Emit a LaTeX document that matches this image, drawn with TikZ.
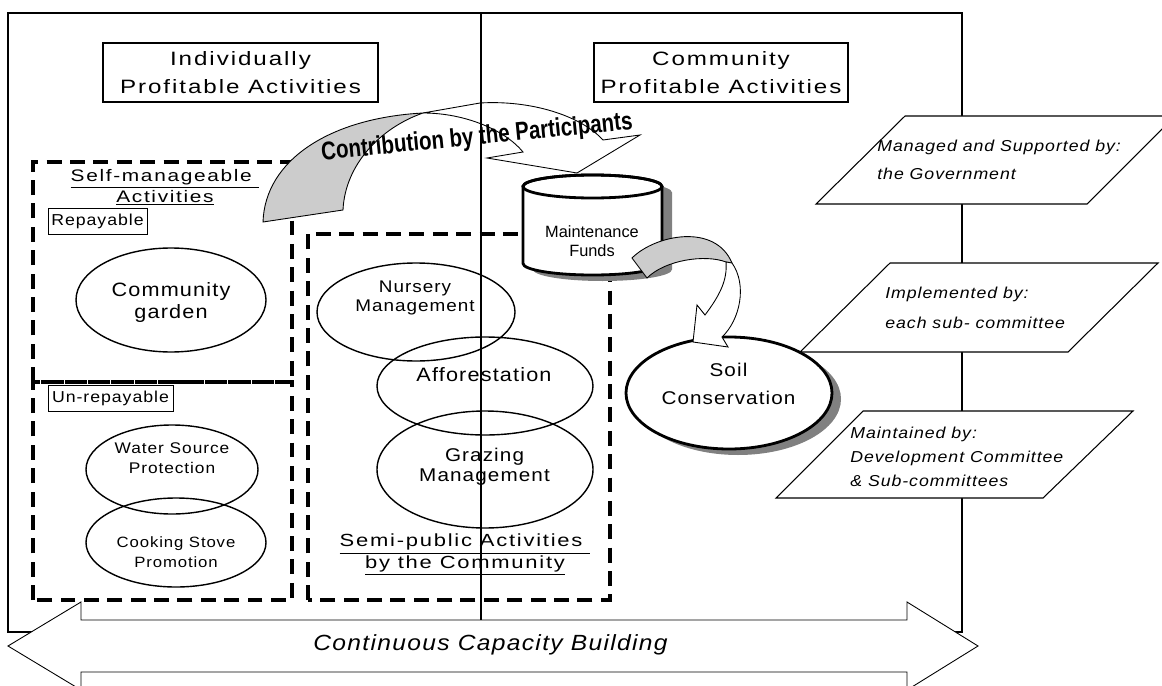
\documentclass[tikz,border=0pt]{standalone}
\usepackage{fontspec}
\setmainfont{Liberation Sans}
\newfontfamily\widefont[FakeStretch=1.12,LetterSpace=6]{Liberation Sans}
\newfontfamily\titlefont[FakeStretch=1.25,LetterSpace=10]{Liberation Sans}
\newfontfamily\artfont[FakeStretch=0.8]{Liberation Sans}
\usetikzlibrary{shapes.geometric, shadows}

\begin{document}
\begin{tikzpicture}[
  frame/.style={draw, line width=0.6pt},
  title/.style={draw, line width=0.6pt, minimum height=1.18cm, inner sep=0pt, align=center,
                font=\titlefont\fontsize{11}{16}\selectfont},
  group/.style={draw, line width=1.9pt, dash pattern=on 8.5pt off 4.8pt},
  tag/.style={draw, line width=0.5pt, inner sep=0pt, minimum height=0.52cm,
              font=\widefont\fontsize{9}{10}\selectfont},
  act/.style={draw, ellipse, line width=0.8pt, inner sep=0pt},
  acttext/.style={align=center, inner sep=0pt},
  flow/.style={draw, line width=0.5pt, fill=white},
  fold/.style={draw, line width=0.5pt, fill=gray!40},
  role/.style={draw, line width=0.6pt, fill=white},
  roletext/.style={anchor=west, align=left, inner sep=0pt,
                   font=\widefont\itshape\fontsize{9}{16}\selectfont}
]
  \useasboundingbox (0,0) rectangle (23.24,13.7);
  \clip (0,0) rectangle (23.24,13.7);

  %--- Outer frame ---
  \draw[frame] (0.16,1.06) rectangle (19.24,13.44);

  \node[title, minimum width=5.5cm]  (indiv) at (4.81,12.25) {Individually\\Profitable Activities};
  \node[title, minimum width=5.08cm] (commu) at (14.42,12.25) {Community\\Profitable Activities};

  %--- Left: self-manageable activities ---
  \draw[group] (0.66,6.06) rectangle (5.84,10.46);
  \draw[group] (0.66,1.7) rectangle (5.84,6.06);

  \node[acttext, font=\titlefont\fontsize{9.5}{10.3}\selectfont] (selfm) at (3.3,9.95)
    {\underline{Self-manageable\ }\\\underline{Activities}};
  \node[tag, minimum width=1.98cm] (repay) at (1.95,9.27) {Repayable};
  \node[tag, minimum width=2.5cm] (unrepay) at (2.21,5.73) {Un-repayable};

  \node[act, minimum width=3.8cm, minimum height=2.08cm] (garden) at (3.42,7.7) {};
  \node[acttext, font=\widefont\fontsize{11}{12}\selectfont] (garden-t) at (3.42,7.65)
    {Community\\garden};

  \node[act, minimum width=3.44cm, minimum height=1.78cm] (water) at (3.44,4.31) {};
  \node[acttext, font=\widefont\fontsize{8.8}{11.4}\selectfont] (water-t) at (3.44,4.54)
    {Water Source\\Protection};

  \node[act, minimum width=3.6cm, minimum height=1.78cm] (stove) at (3.52,2.85) {};
  \node[acttext, font=\widefont\fontsize{8.5}{11}\selectfont] (stove-t) at (3.52,2.66)
    {Cooking Stove\\Promotion};

  %--- Middle: semi-public activities ---
  \draw[group] (6.16,1.7) rectangle (12.2,9.02);

  \node[act, minimum width=3.96cm, minimum height=1.96cm] (nursery) at (8.32,7.46) {};
  \node[acttext, font=\widefont\fontsize{9.6}{10.5}\selectfont] (nursery-t) at (8.3,7.74)
    {Nursery\\Management};

  \node[act, minimum width=4.32cm, minimum height=1.96cm] (affor) at (9.7,5.98) {};
  \node[acttext, font=\widefont\fontsize{11}{12}\selectfont] (affor-t) at (9.68,6.2)
    {Afforestation};

  \node[act, minimum width=4.32cm, minimum height=2.34cm] (graze) at (9.7,4.31) {};
  \node[acttext, font=\widefont\fontsize{10.5}{11.4}\selectfont] (graze-t) at (9.69,4.37)
    {Grazing\\Management};

  \node[acttext, font=\titlefont\fontsize{10}{10.3}\selectfont] (semi) at (9.3,2.6)
    {\underline{Semi-public Activities\ }\\\underline{by the Community}};

  %--- Maintenance funds (cylinder with shadow) ---
  \fill[gray, shift={(0.2,-0.12)}] (10.46,9.97) -- (10.46,8.43)
    arc[start angle=180, end angle=360, x radius=1.39, y radius=0.23] -- (13.24,9.97)
    arc[start angle=0, end angle=180, x radius=1.39, y radius=0.23] -- cycle;
  \filldraw[fill=white, line width=1.6pt] (10.46,9.97) -- (10.46,8.43)
    arc[start angle=180, end angle=360, x radius=1.39, y radius=0.23] -- (13.24,9.97)
    arc[start angle=0, end angle=180, x radius=1.39, y radius=0.23] -- cycle;
  \draw[line width=1.6pt] (11.85,9.97) ellipse [x radius=1.39, y radius=0.23];
  \node[acttext, font=\fontsize{9.3}{10.8}\selectfont] (funds) at (11.84,8.88)
    {Maintenance\\Funds};

  %--- Soil conservation ---
  \node[act, line width=1.6pt, fill=white, minimum width=4.12cm, minimum height=2.24cm,
        drop shadow={shadow xshift=0.18cm, shadow yshift=-0.12cm, fill=gray, opacity=1}]
        (soil) at (14.58,5.84) {};
  \node[acttext, font=\widefont\fontsize{10.5}{16}\selectfont] (soil-t) at (14.57,6.02)
    {Soil\\Conservation};

  %--- Block arrows ---
  \path[fold] (5.26,9.26) .. controls (5.3,10.5) and (6.6,11.34) .. (8.46,11.44)
    .. controls (7.6,11.14) and (6.9,10.4) .. (6.86,9.5) -- cycle;
  \path[flow] (8.46,11.44) -- (9.6,11.64) .. controls (10.6,11.7) and (11.6,11.4) .. (12.06,10.9)
    -- (12.8,11.0) -- (11.54,10.24) -- (9.74,10.54) -- (10.46,10.66)
    .. controls (10.1,11.1) and (9.3,11.44) .. cycle;

  \path[fold] (12.64,8.54) .. controls (13.1,9.0) and (14.3,9.25) .. (14.64,8.44)
    -- (14.52,8.46) .. controls (14.1,8.62) and (13.3,8.5) .. (12.94,8.14) -- cycle;
  \path[flow] (14.64,8.44) .. controls (14.95,8.0) and (14.8,7.3) .. (14.44,6.96)
    -- (14.56,6.76) -- (13.86,6.86) -- (13.94,7.6) -- (14.1,7.4)
    .. controls (14.4,7.8) and (14.55,8.1) .. (14.52,8.46) -- cycle;

  \node[font=\artfont\bfseries\fontsize{14.6}{16}\selectfont, rotate=5.7, inner sep=0pt]
    (contrib) at (9.54,10.94) {Contribution by the Participants};

  % Divider
  \draw[frame] (9.62,13.44) -- (9.62,1.3);

  %--- Right: roles ---
  \path[role] (16.32,9.62) -- (21.74,9.62) -- (23.5,11.38) -- (18.1,11.38) -- cycle;
  \node[roletext] (gov) at (17.54,10.5) {Managed and Supported by:\\the Government};

  \path[role] (16.0,6.66) -- (21.36,6.66) -- (23.16,8.44) -- (17.8,8.44) -- cycle;
  \node[roletext, font=\widefont\itshape\fontsize{9}{17}\selectfont] (subc) at (17.7,7.55)
    {Implemented by:\\each sub- committee};

  \path[role] (15.52,3.74) -- (20.86,3.74) -- (22.66,5.48) -- (17.26,5.48) -- cycle;
  \node[roletext, font=\widefont\itshape\fontsize{9}{13.7}\selectfont] (devc) at (17.0,4.56)
    {Maintained by:\\Development Committee\\\& Sub-committees};

  %--- Bottom: capacity building ---
  \path[flow] (0.16,0.78) -- (1.62,1.66) -- (1.62,1.3) -- (18.14,1.3) -- (18.14,1.66)
    -- (19.56,0.78) -- (18.14,-0.1) -- (18.14,0.26) -- (1.62,0.26) -- (1.62,-0.1) -- cycle;
  \node[font=\widefont\itshape\fontsize{12.5}{14}\selectfont] (capacity) at (9.81,0.8)
    {Continuous Capacity Building};

\end{tikzpicture}
\end{document}
